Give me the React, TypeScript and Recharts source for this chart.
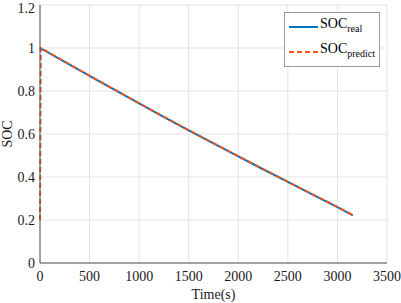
import React from 'react';
import {
  LineChart,
  Line,
  XAxis,
  YAxis,
  CartesianGrid,
} from 'recharts';

const timeReal = [0, 250, 500, 750, 1000, 1250, 1500, 1750, 2000, 2250, 2500, 2750, 3000, 3155];
const socReal = [1.0, 0.935, 0.87, 0.806, 0.742, 0.679, 0.617, 0.556, 0.496, 0.436, 0.377, 0.318, 0.26, 0.222];
const timePred = [0, 8, 250, 500, 750, 1000, 1250, 1500, 1750, 2000, 2250, 2500, 2750, 3000, 3155];
const socPred = [0.2, 1.0, 0.936, 0.871, 0.807, 0.743, 0.68, 0.618, 0.557, 0.497, 0.437, 0.378, 0.319, 0.261, 0.223];
const xTicks = [0, 500, 1000, 1500, 2000, 2500, 3000, 3500];
const yTicks = [0, 0.2, 0.4, 0.6, 0.8, 1, 1.2];

const realData = timeReal.map((t, i) => ({ t, soc: socReal[i] }));
const predData = timePred.map((t, i) => ({ t, soc: socPred[i] }));

const font = '"Liberation Serif", "Times New Roman", serif';
const blue = '#0072BD';
const orange = '#F0561D';

const LegendBox = () => (
  <div
    style={{
      position: 'absolute',
      left: 284,
      top: 12,
      border: '1px solid #9a9a9a',
      background: '#fff',
      fontFamily: font,
      fontSize: 14,
      color: '#000',
      padding: '1px 4px 2px 3px',
      lineHeight: '20px',
    }}
  >
    <div style={{ display: 'flex', alignItems: 'center' }}>
      <svg width={30} height={10}>
        <line x1={1} y1={5} x2={30} y2={5} stroke={blue} strokeWidth={2} />
      </svg>
      <span style={{ marginLeft: 2 }}>
        SOC<sub style={{ fontSize: 10, verticalAlign: -4 }}>real</sub>
      </span>
    </div>
    <div style={{ display: 'flex', alignItems: 'center' }}>
      <svg width={30} height={10}>
        <line x1={1} y1={5} x2={30} y2={5} stroke={orange} strokeWidth={2} strokeDasharray="5 3" />
      </svg>
      <span style={{ marginLeft: 2 }}>
        SOC<sub style={{ fontSize: 10, verticalAlign: -4 }}>predict</sub>
      </span>
    </div>
  </div>
);

const App = () => {
  const tickStyle = { fontFamily: font, fontSize: 14, fill: '#1a1a1a' };
  return (
    <div style={{ position: 'absolute', left: 0, top: 0, background: '#fff', fontFamily: font }}>
      <LineChart width={401} height={303} margin={{ top: 5, right: 14, bottom: 0, left: 0 }} style={{ fontFamily: font }}>
        <CartesianGrid stroke="#e3e3e3" />
        <XAxis
          type="number"
          dataKey="t"
          domain={[0, 3500]}
          ticks={xTicks}
          tickLine={false}
          tickSize={0}
          tickMargin={8}
          stroke="#555"
          tick={tickStyle}
          height={40}
          label={{ value: 'Time(s)', position: 'insideBottom', offset: 4, style: { fontFamily: font, fontSize: 14, fill: '#1a1a1a' } }}
        />
        <XAxis xAxisId="top" orientation="top" type="number" domain={[0, 3500]} ticks={xTicks} tick={false} tickLine={false} stroke="#555" height={0} />
        <YAxis
          type="number"
          domain={[0, 1.2]}
          ticks={yTicks}
          tickLine={false}
          tickSize={0}
          tickMargin={5}
          stroke="#555"
          tick={tickStyle}
          width={40}
          label={{ value: 'SOC', angle: -90, position: 'insideLeft', offset: 7, style: { fontFamily: font, fontSize: 14, fill: '#1a1a1a', textAnchor: 'middle' } }}
        />
        <YAxis yAxisId="right" orientation="right" domain={[0, 1.2]} ticks={yTicks} tick={false} tickLine={false} stroke="#555" width={0} />
        <Line data={realData} dataKey="soc" type="linear" stroke={blue} strokeWidth={2} dot={false} isAnimationActive={false} />
        <Line data={predData} dataKey="soc" type="linear" stroke={orange} strokeWidth={2} strokeDasharray="5 3" dot={false} isAnimationActive={false} />
      </LineChart>
      <LegendBox />
    </div>
  );
};

export default App;
